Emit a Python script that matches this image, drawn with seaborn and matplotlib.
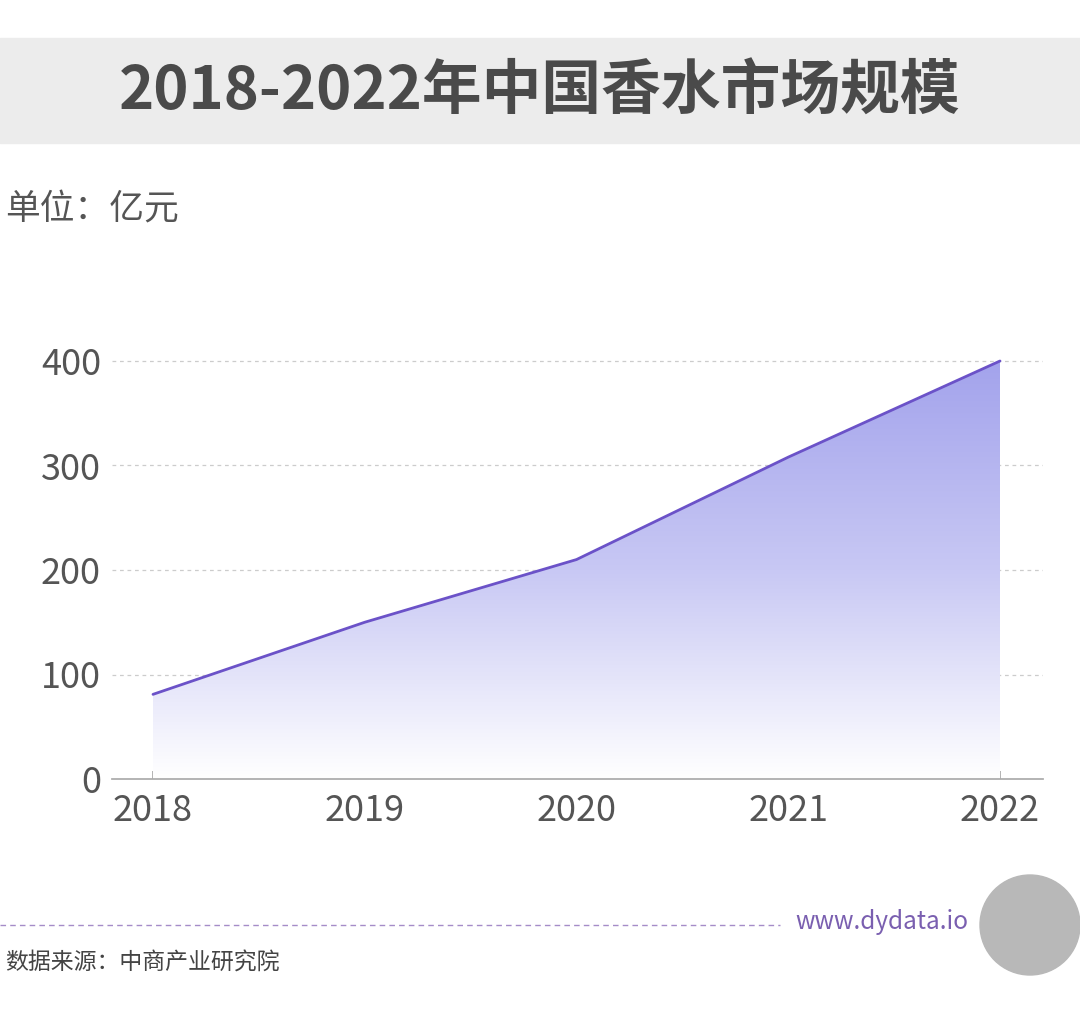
import numpy as np
import pandas as pd
import seaborn as sns
import matplotlib.pyplot as plt
from matplotlib.patches import Rectangle, Ellipse

years = [2018, 2019, 2020, 2021, 2022]
market_size = [81, 150, 210, 308, 400]
y_ticks = [0, 100, 200, 300, 400]

df = pd.DataFrame({'year': years, 'size': market_size})

sns.set_theme(style='white')
plt.rcParams['font.family'] = ['Noto Sans CJK SC', 'DejaVu Sans']

W, H = 1080, 1011
fig = plt.figure(figsize=(W / 100, H / 100), dpi=100)

# title band
fig.patches.append(Rectangle((0, 1 - 143 / H), 1, 105 / H, transform=fig.transFigure,
                             color='#ececec', zorder=0))
fig.text(0.5, 1 - 93 / H, '2018-2022年中国香水市场规模', ha='center', va='center',
         fontsize=43, fontweight='bold', color='#4a4a4a')
fig.text(5 / W, 1 - 210 / H, '单位：亿元', ha='left', va='center', fontsize=25, color='#555555')

# axes: x pixels 112..1043, y pixels 355..779
ax = fig.add_axes([112 / W, 1 - 779 / H, (1043 - 112) / W, (779 - 355) / H])

sns.lineplot(data=df, x='year', y='size', ax=ax, color='#6b52c8', linewidth=2, zorder=3)
fill = ax.fill_between(df['year'], df['size'], 0, color='none', zorder=2)

# vertical gradient clipped to the area
grad = np.linspace(0, 1, 256).reshape(-1, 1)
cmap = sns.blend_palette(['#ffffff', '#c8c8f4', '#a3a3ec'], as_cmap=True)
img = ax.imshow(grad, extent=[2018, 2022, 0, 400], origin='lower', aspect='auto',
                cmap=cmap, zorder=2)
img.set_clip_path(fill.get_paths()[0], transform=ax.transData)
ax.set_xlim(2018 - 41 / 211.75, 2022 + 43 / 211.75)
ax.set_ylim(0, 400 * (779 - 355) / (779 - 361))

for t in y_ticks[1:]:
    ax.axhline(t, color='#cccccc', linestyle=(0, (3, 3)), linewidth=0.9, zorder=1)

ax.set_xticks(years)
ax.set_yticks(y_ticks)
ax.tick_params(axis='both', labelsize=26, labelcolor='#555555', length=0, pad=8)
ax.tick_params(axis='x', pad=10)
ax.tick_params(axis='x', bottom=True, length=6, color='#aaaaaa', direction='in')
for s in ['top', 'right', 'left']:
    ax.spines[s].set_visible(False)
ax.spines['bottom'].set_color('#aaaaaa')
ax.set_xlabel('')
ax.set_ylabel('')

# footer
fig.lines.append(plt.Line2D([0, 780 / W], [1 - 925 / H] * 2, transform=fig.transFigure,
                            color='#a58cc8', linestyle=(0, (4, 3)), linewidth=1))
fig.text(795 / W, 1 - 922 / H, 'www.dydata.io', ha='left', va='center', fontsize=17.5,
         color='#7a5fb0')
fig.patches.append(Ellipse((1030 / W, 1 - 925 / H), 100 / W, 100 / H, transform=fig.transFigure,
                           color='#b8b8b8'))
fig.text(5 / W, 1 - 963 / H, '数据来源：中商产业研究院', ha='left', va='center',
         fontsize=16.5, color='#444444')

fig.savefig('out.png', dpi=100)
